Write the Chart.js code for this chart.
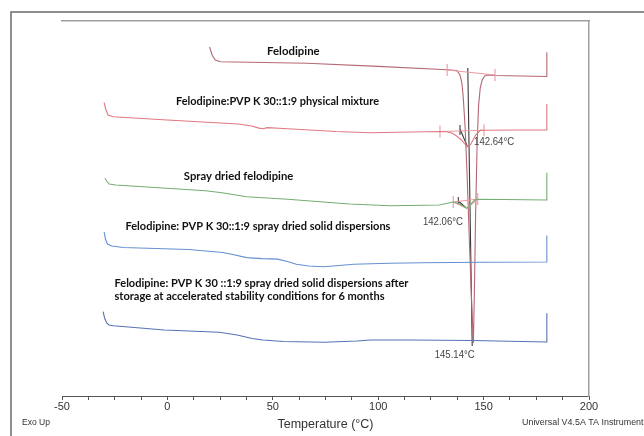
<!DOCTYPE html>
<html lang="en">
<head>
  <meta charset="UTF-8">
  <title>DSC thermograms</title>
  <script src="https://cdn.jsdelivr.net/npm/chart.js"></script>
  <style>
    body { margin: 0; background: #fff; }
    canvas { display: block; }
  </style>
</head>
<body>
  <canvas id="dscChart" width="644" height="436"></canvas>
  <script>
    // Temperature (°C) and stacked heat flow (arbitrary units)

    // Felodipine
    const felTemp = [20.0, 21.2, 22.7, 25.1, 66.2, 100, 132.7, 137.3, 138.8, 139.7, 140.3, 141.2, 142.2, 143.4, 144.4, 145.14,
      145.6, 146.2, 146.9, 147.6, 148.4, 149.3, 150.5, 152, 155.4, 180, 180];
    const felFlow = [349, 341, 336, 334.3, 332.7, 329.6, 326.2, 325.5, 321, 313, 300, 270, 220, 146, 90, 53,
      100, 180, 250, 290, 308, 316, 320, 321, 320.5, 319.5, 343.7];

    // Felodipine:PVP K 30::1:9 physical mixture
    const pmTemp = [-30.0, -29.3, -28.2, -25.7, 0, 33.7, 40, 43.4, 45.4, 47.3, 57.1, 80, 96.0, 115.5, 129.3, 132.4, 135,
      137.2, 139.5, 141.3, 142.64, 144, 146.2, 148.6, 150.2, 165, 180, 180];
    const pmFlow = [293.3, 287, 281, 279.3, 276, 272, 270, 267.9, 267.2, 268.4, 267.3, 264.5, 263.3, 264, 264.5, 264.3, 263,
      260, 256, 251.5, 248.7, 252, 261, 266, 265.7, 266, 266, 292];

    // Spray dried felodipine
    const sdTemp = [-29.6, -28.8, -27.6, -24.5, 18.1, 25.9, 37.6, 57.1, 86.3, 105.7, 128.9, 135.6, 137.5, 139.5, 141,
      142.06, 143.5, 145, 146.5, 160, 180, 180];
    const sdFlow = [217.7, 215, 212, 211, 205.3, 203.3, 199.3, 196.7, 192, 190.3, 191, 194, 193, 191, 189,
      187.7, 190.5, 194.5, 196.7, 196.5, 196, 223.3];

    // Felodipine: PVP K 30::1:9 spray dried solid dispersions
    const disTemp = [-30.0, -29.4, -28.4, -26.5, -20.9, 10, 26.3, 31, 37.6, 45, 52.3, 57, 61.2, 67, 74.2, 80, 88.3, 105,
      121, 150, 180, 180];
    const disFlow = [164, 157, 152, 150, 148.5, 146.5, 143.5, 141.5, 138.4, 137.4, 136.9, 134.5, 131.8, 130, 129.2, 130.3,
      131.8, 132.8, 133.3, 133.8, 134, 160.5];

    // same, after storage at accelerated stability conditions for 6 months
    const stoTemp = [-30.5, -29.8, -28.8, -27.7, -25.6, -1.5, 24.6, 33.1, 40.2, 45.4, 55, 74.4, 90, 96.2, 115.1, 144.5,
      180, 180];
    const stoFlow = [84.3, 78, 73, 71, 70.3, 66, 63.7, 61, 57.5, 56, 54.5, 53.7, 55, 56, 56, 55.5, 54, 82.7];

    // peak integration marks (baselines, limit ticks, onset markers); null breaks a line
    const intTemp = [132.7, 155.4, null, 132.7, 132.7, null, 155.4, 155.4, null,
      129.3, 150.2, null, 129.3, 129.3, null, 150.2, 150.2, null,
      135.6, 147.2, null, 135.6, 142.06, 147.2, null, 135.6, 135.6, null, 147.2, 147.2];
    const intFlow = [326, 321, null, 320, 332, null, 315, 327, null,
      264.5, 265.7, null, 258.5, 270.5, null, 259.7, 271.7, null,
      194, 197, null, 194, 187.7, 197, null, 188, 200, null, 191, 203];
    const onsetTemp = [142.5, 144.6, null, 138.8, 138.8, null, 138.8, 142.3, null,
      138.0, 138.0, null, 138.0, 141.5];
    const onsetFlow = [328, 50, null, 261, 271, null, 267, 249.5, null,
      191, 199, null, 195, 188.5];

    const tickLabels = [-50, 0, 50, 100, 150, 200];

    const curveNames = [
      { text: 'Felodipine', t: 47.3, h: 345, w: 52.5 },
      { text: 'Felodipine:PVP K 30::1:9 physical mixture', t: 4.1, h: 295, w: 203 },
      { text: 'Spray dried felodipine', t: 7.8, h: 220, w: 109.5 },
      { text: 'Felodipine: PVP K 30::1:9 spray dried solid dispersions', t: -19.9, h: 169.3, w: 265 },
      { text: 'Felodipine: PVP K 30 ::1:9 spray dried solid dispersions after', t: -25.1, h: 113, w: 294 },
      { text: 'storage at accelerated stability conditions for 6 months', t: -25.1, h: 99.3, w: 270 }
    ];
    const peakNotes = [
      { text: '142.64°C', t: 145.5, h: 254, align: 'left' },
      { text: '142.06°C', t: 140.2, h: 174, align: 'right' },
      { text: '145.14°C', t: 136.3, h: 40.7, align: 'center' }
    ];

    const pts = (ts, hs) => ts.map((t, i) => ({ x: t === null ? 0 : t, y: hs[i] }));
    const curve = (data, color, width) => ({
      data, borderColor: color, borderWidth: width || 1.1, pointRadius: 0, tension: 0, fill: false
    });

    const frame = {
      id: 'frame',
      beforeDraw(chart) {
        const ctx = chart.ctx;
        ctx.save();
        ctx.fillStyle = '#fff';
        ctx.fillRect(0, 0, chart.width, chart.height);
        ctx.strokeStyle = '#6a6a6a';
        ctx.lineWidth = 1.5;
        ctx.beginPath();
        ctx.moveTo(11, chart.height);
        ctx.lineTo(11, 12);
        ctx.lineTo(chart.width, 12);
        ctx.stroke();
        ctx.restore();
      }
    };

    const annotate = {
      id: 'annotate',
      afterDraw(chart) {
        const { ctx, scales: { x, y } } = chart;
        ctx.save();
        ctx.textBaseline = 'middle';
        ctx.fillStyle = '#111';
        ctx.textAlign = 'left';
        ctx.font = 'bold 11.5px Lato, sans-serif';
        curveNames.forEach(l => {
          ctx.fillText(l.text, x.getPixelForValue(l.t), y.getPixelForValue(l.h), l.w);
        });
        ctx.fillStyle = '#444';
        ctx.font = "10.5px 'Liberation Sans', Arial, sans-serif";
        peakNotes.forEach(n => {
          ctx.textAlign = n.align;
          ctx.fillText(n.text, x.getPixelForValue(n.t), y.getPixelForValue(n.h), 40);
        });
        ctx.fillStyle = '#333';
        ctx.font = "9.5px 'Liberation Sans', Arial, sans-serif";
        ctx.textAlign = 'left';
        ctx.fillText('Exo Up', 22, 422, 28);
        ctx.fillText('Universal V4.5A TA Instruments', 522, 422, 126);
        ctx.restore();
      }
    };

    const ctx = document.getElementById('dscChart').getContext('2d');
    new Chart(ctx, {
      type: 'line',
      data: {
        datasets: [
          curve(pts(stoTemp, stoFlow), '#5573b2'),
          curve(pts(disTemp, disFlow), '#6590d0'),
          curve(pts(sdTemp, sdFlow), '#74ae74'),
          curve(pts(pmTemp, pmFlow), '#e27882'),
          curve(pts(intTemp, intFlow), '#eb9aa2', 1.1),
          curve(pts(felTemp, felFlow), '#b46874'),
          curve(pts(onsetTemp, onsetFlow), '#3a3a3a', 1.1)
        ]
      },
      options: {
        responsive: false,
        animation: false,
        layout: { padding: { left: 62, right: 55, top: 21, bottom: 0 } },
        plugins: { legend: { display: false }, tooltip: { enabled: false } },
        scales: {
          x: {
            type: 'linear', min: -50, max: 200,
            ticks: {
              stepSize: 12.5, autoSkip: false, maxRotation: 0, padding: 0, color: '#333',
              font: { family: "'Liberation Sans', Arial, sans-serif", size: 11 },
              callback: v => tickLabels.includes(v) ? String(v) : ''
            },
            grid: { drawOnChartArea: false, tickLength: 4, color: '#555' },
            border: { color: '#555', width: 1 },
            title: {
              display: true, text: 'Temperature (°C)', color: '#333',
              font: { family: "'Liberation Sans', Arial, sans-serif", size: 12.5 },
              padding: { top: 0, bottom: 4 }
            },
            afterFit: s => { s.height = 40; }
          },
          x2: {
            type: 'linear', position: 'top', min: -50, max: 200,
            ticks: { display: false }, grid: { display: false },
            border: { color: '#a0a0a0', width: 1.5 },
            afterFit: s => { s.height = 0; }
          },
          y: {
            min: 0, max: 375, position: 'right',
            ticks: { display: false }, grid: { display: false },
            border: { color: '#a0a0a0', width: 1.5 },
            afterFit: s => { s.width = 0; }
          }
        }
      },
      plugins: [frame, annotate]
    });
  </script>
</body>
</html>
